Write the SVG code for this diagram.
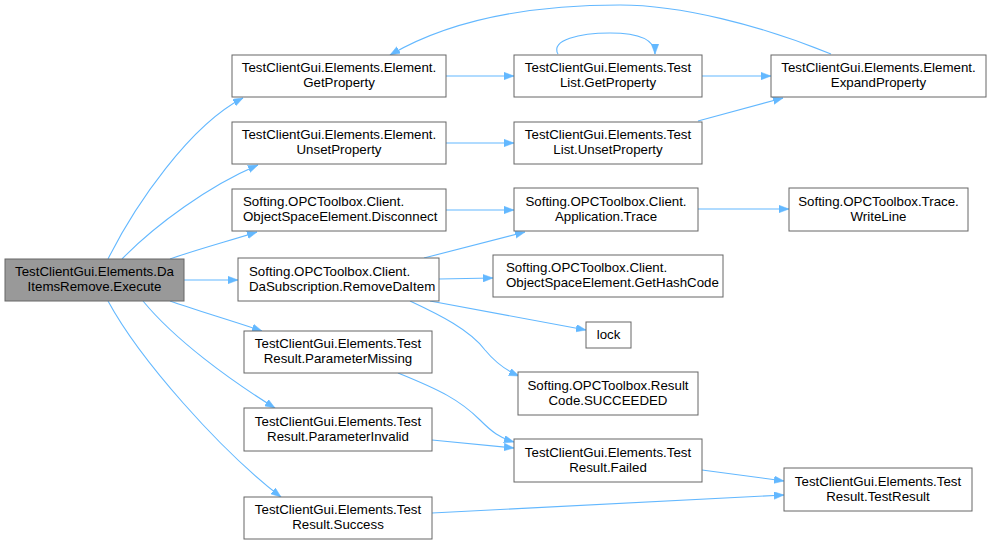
<svg xmlns="http://www.w3.org/2000/svg" width="991" height="544" viewBox="0 0 991 544">
<style>
.n rect{fill:#ffffff;stroke:#666666;stroke-width:1}
.n text{font-family:"Liberation Sans",Arial,sans-serif;font-size:13.3px;fill:#000000;text-anchor:middle}
.n text.l{text-anchor:start}
#main rect{fill:#999999}
.e path{fill:none;stroke:#63b8ff;stroke-width:1.1}
</style>
<defs>
<marker id="ah" markerUnits="userSpaceOnUse" markerWidth="11" markerHeight="8" refX="10" refY="3.75" orient="auto">
<path d="M0,0 L10,3.75 L0,7.5 z" fill="#63b8ff" stroke="#63b8ff" stroke-width="0.5"/>
</marker>
</defs>
<rect width="991" height="544" fill="#ffffff"/>
<g id="edges" class="e">
<path marker-end="url(#ah)" d="M108,259 C135,205 190,125 243,98"/>
<path marker-end="url(#ah)" d="M122,259 C155,225 210,185 258,165"/>
<path marker-end="url(#ah)" d="M170,259 C195,250 225,242 257,232"/>
<path marker-end="url(#ah)" d="M184,280 L238,280"/>
<path marker-end="url(#ah)" d="M170,301 C195,310 230,320 262,331"/>
<path marker-end="url(#ah)" d="M143,301 C175,340 230,380 275,408"/>
<path marker-end="url(#ah)" d="M108,301 C140,360 220,450 281,497"/>
<path marker-end="url(#ah)" d="M446,76 L514,76"/>
<path marker-end="url(#ah)" d="M558,54 C550,40 580,33 610,33 C640,33 655,40 655,54"/>
<path marker-end="url(#ah)" d="M702,76 L771,76"/>
<path marker-end="url(#ah)" d="M831,54 C760,25 680,5 620,5 C530,5 450,20 390,55"/>
<path marker-end="url(#ah)" d="M446,143 L514,143"/>
<path marker-end="url(#ah)" d="M698,121 L783,98"/>
<path marker-end="url(#ah)" d="M446,210 L514,210"/>
<path marker-end="url(#ah)" d="M424,258 L525,232"/>
<path marker-end="url(#ah)" d="M439,279 L493,278"/>
<path marker-end="url(#ah)" d="M430,301 L586,330"/>
<path marker-end="url(#ah)" d="M410,301 C440,315 470,330 485,350 C495,362 505,370 519,376"/>
<path marker-end="url(#ah)" d="M698,209 L789,209"/>
<path marker-end="url(#ah)" d="M398,373 C440,390 460,400 480,420 C492,432 500,438 514,442"/>
<path marker-end="url(#ah)" d="M432,440 L514,448"/>
<path marker-end="url(#ah)" d="M702,470 L784,481"/>
<path marker-end="url(#ah)" d="M432,513 L784,495"/>
</g>
<g id="main" class="n"><rect x="5" y="259" width="179" height="42"/><text x="94.5" y="276">TestClientGui.Elements.Da</text><text x="94.5" y="291">ItemsRemove.Execute</text></g>
<g id="elGetProperty" class="n"><rect x="232" y="55" width="214" height="42"/><text x="339" y="72">TestClientGui.Elements.Element.</text><text x="339" y="87">GetProperty</text></g>
<g id="elUnsetProperty" class="n"><rect x="232" y="122" width="214" height="42"/><text x="339" y="139">TestClientGui.Elements.Element.</text><text x="339" y="154">UnsetProperty</text></g>
<g id="disconnect" class="n"><rect x="232" y="189" width="214" height="42"/><text class="l" x="243" y="206">Softing.OPCToolbox.Client.</text><text class="l" x="243" y="221">ObjectSpaceElement.Disconnect</text></g>
<g id="removeDaItem" class="n"><rect x="238" y="258" width="201" height="43"/><text class="l" x="249" y="276">Softing.OPCToolbox.Client.</text><text class="l" x="249" y="291">DaSubscription.RemoveDaItem</text></g>
<g id="paramMissing" class="n"><rect x="244" y="331" width="188" height="42"/><text x="338" y="348">TestClientGui.Elements.Test</text><text x="338" y="363">Result.ParameterMissing</text></g>
<g id="paramInvalid" class="n"><rect x="244" y="408" width="188" height="43"/><text x="338" y="426">TestClientGui.Elements.Test</text><text x="338" y="441">Result.ParameterInvalid</text></g>
<g id="success" class="n"><rect x="244" y="497" width="188" height="42"/><text x="338" y="514">TestClientGui.Elements.Test</text><text x="338" y="529">Result.Success</text></g>
<g id="tlGetProperty" class="n"><rect x="514" y="55" width="188" height="42"/><text x="608" y="72">TestClientGui.Elements.Test</text><text x="608" y="87">List.GetProperty</text></g>
<g id="expandProperty" class="n"><rect x="771" y="55" width="215" height="42"/><text x="878.5" y="72">TestClientGui.Elements.Element.</text><text x="878.5" y="87">ExpandProperty</text></g>
<g id="tlUnsetProperty" class="n"><rect x="514" y="122" width="188" height="42"/><text x="608" y="139">TestClientGui.Elements.Test</text><text x="608" y="154">List.UnsetProperty</text></g>
<g id="appTrace" class="n"><rect x="514" y="188" width="184" height="43"/><text x="606" y="206">Softing.OPCToolbox.Client.</text><text x="606" y="221">Application.Trace</text></g>
<g id="writeLine" class="n"><rect x="789" y="188" width="179" height="43"/><text x="878.5" y="206">Softing.OPCToolbox.Trace.</text><text x="878.5" y="221">WriteLine</text></g>
<g id="getHashCode" class="n"><rect x="493" y="255" width="230" height="42"/><text class="l" x="506" y="272">Softing.OPCToolbox.Client.</text><text class="l" x="506" y="287">ObjectSpaceElement.GetHashCode</text></g>
<g id="lock" class="n"><rect x="586" y="322" width="45" height="26"/><text x="608.5" y="339">lock</text></g>
<g id="succeeded" class="n"><rect x="518" y="372" width="180" height="43"/><text x="608" y="390">Softing.OPCToolbox.Result</text><text x="608" y="405">Code.SUCCEEDED</text></g>
<g id="failed" class="n"><rect x="514" y="439" width="188" height="43"/><text x="608" y="457">TestClientGui.Elements.Test</text><text x="608" y="472">Result.Failed</text></g>
<g id="testResult" class="n"><rect x="784" y="468" width="188" height="43"/><text x="878" y="486">TestClientGui.Elements.Test</text><text x="878" y="501">Result.TestResult</text></g>
</svg>
